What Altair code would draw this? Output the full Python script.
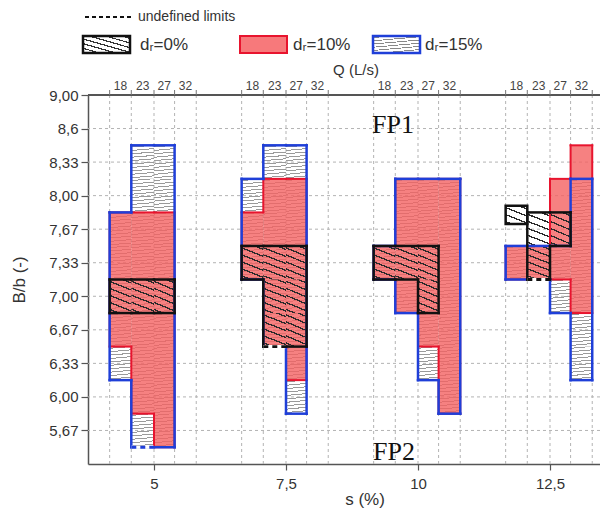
import math
import pandas as pd
import altair as alt

# ---------------- data ----------------
S_VALUES = [5, 7.5, 10, 12.5]
S_LABELS = ["5", "7,5", "10", "12,5"]
Q_VALUES = [18, 23, 27, 32]
BB_LEVELS = [5.67, 6.00, 6.33, 6.67, 7.00, 7.33, 7.67, 8.00, 8.33, 8.6, 9.00]
BB_LABELS = ["5,67", "6,00", "6,33", "6,67", "7,00", "7,33", "7,67", "8,00", "8,33", "8,6", "9,00"]

# (s, Q, lowest B/b, highest B/b)
DR15 = [
    (5, 18, 6.33, 7.67), (5, 23, 5.67, 8.33), (5, 27, 5.67, 8.33),
    (7.5, 18, 7.33, 8.00), (7.5, 23, 6.67, 8.33), (7.5, 27, 6.00, 8.33),
    (10, 18, 7.33, 7.33), (10, 23, 7.00, 8.00), (10, 27, 6.33, 8.00), (10, 32, 6.00, 8.00),
    (12.5, 18, 7.33, 7.33), (12.5, 23, 7.33, 7.33), (12.5, 27, 7.00, 7.33), (12.5, 32, 6.33, 8.00),
]
DR10 = [
    (5, 18, 6.67, 7.67), (5, 23, 6.00, 7.67), (5, 27, 5.67, 7.67),
    (7.5, 18, 7.33, 7.67), (7.5, 23, 6.67, 8.00), (7.5, 27, 6.33, 8.00),
    (10, 18, 7.33, 7.33), (10, 23, 7.00, 8.00), (10, 27, 6.67, 8.00), (10, 32, 6.00, 8.00),
    (12.5, 18, 7.33, 7.33), (12.5, 23, 7.33, 7.33), (12.5, 27, 7.33, 8.00), (12.5, 32, 7.00, 8.33),
]
DR0 = [
    (5, 18, 7.00, 7.00), (5, 23, 7.00, 7.00), (5, 27, 7.00, 7.00),
    (7.5, 18, 7.33, 7.33), (7.5, 23, 6.67, 7.33), (7.5, 27, 6.67, 7.33),
    (10, 18, 7.33, 7.33), (10, 23, 7.33, 7.33), (10, 27, 7.00, 7.33),
    (12.5, 23, 7.33, 7.67), (12.5, 27, 7.67, 7.67),
]
DR0_EXTRA = [(12.5, 18, 7.72, 7.90)]          # isolated box (B/b bounds)
UNDEFINED = [(5, 23, 5.67, "15"), (7.5, 23, 6.67, "0"), (12.5, 23, 7.33, "0")]  # undefined lower limits

# ---------------- layout ----------------
Q_EDGES = [-0.84, -0.43, 0.0, 0.39, 0.80]   # column edges relative to s
W, H = 512, 369
X0 = 3.75
PX_PER_S = 52.8
xscale = alt.Scale(domain=[X0, X0 + W / PX_PER_S], nice=False, zero=False)
yscale = alt.Scale(domain=[0, 11], nice=False, zero=False)
FONT = "Liberation Sans"

BLUE = "#1f3fd8"
RED = "#e8142e"
BLACK = "#111111"

XAXIS = alt.Axis(
    orient="bottom", values=S_VALUES,
    labelExpr="[" + ",".join("'%s'" % l for l in S_LABELS) + "][indexof(["
              + ",".join(str(v) for v in S_VALUES) + "], datum.value)]",
    title=None, grid=False, tickSize=6, tickColor="#555", tickWidth=1.2,
    domainColor="#555", domainWidth=1.5, labelFontSize=15, labelColor="#333",
    labelFont=FONT, labelPadding=6)
YAXIS = alt.Axis(
    orient="left", values=list(range(1, 12)),
    labelExpr="[''," + ",".join("'%s'" % l for l in BB_LABELS) + "][datum.value]",
    title=None, grid=False, tickSize=7, tickColor="#555", tickWidth=1.2,
    domainColor="#555", domainWidth=1.5, labelFontSize=15, labelColor="#333",
    labelFont=FONT, labelPadding=3)

def pos(bb):
    lv = [round(v, 2) for v in BB_LEVELS]
    bb = round(bb, 2)
    if bb in lv:
        return lv.index(bb) + 1
    for i in range(len(lv) - 1):
        if lv[i] <= bb <= lv[i + 1]:
            return i + 1 + (bb - lv[i]) / (lv[i + 1] - lv[i])
    return 0

def edges(s):
    return [s + o for o in Q_EDGES]

def ranges(rows):
    return {(s, q): (pos(lo) - 0.5, pos(hi) + 0.5) for s, q, lo, hi in rows}

def cells(rows):
    out = []
    for s, q, lo, hi in rows:
        bx = edges(s)
        i = Q_VALUES.index(q)
        for l in range(int(pos(lo)), int(pos(hi)) + 1):
            out.append({"x0": bx[i], "x1": bx[i + 1], "y0": l - 0.5, "y1": l + 0.5})
    return pd.DataFrame(out)

def columns(rows):
    out = []
    for (s, q), (a, b) in ranges(rows).items():
        bx = edges(s)
        i = Q_VALUES.index(q)
        out.append({"x0": bx[i], "x1": bx[i + 1], "y0": a, "y1": b})
    return pd.DataFrame(out)

def outline(rows):
    rng = ranges(rows)
    segs = []
    for s in S_VALUES:
        cols = [rng.get((s, q)) for q in Q_VALUES]
        bx = edges(s)
        for i, c in enumerate(cols):
            if c:
                segs.append((bx[i], bx[i + 1], c[1], c[1]))
                segs.append((bx[i], bx[i + 1], c[0], c[0]))
        for j in range(5):
            L = cols[j - 1] if j > 0 else None
            R = cols[j] if j < 4 else None
            xs = bx[j]
            if L and R and max(L[0], R[0]) < min(L[1], R[1]):
                if L[0] != R[0]:
                    segs.append((xs, xs, min(L[0], R[0]), max(L[0], R[0])))
                if L[1] != R[1]:
                    segs.append((xs, xs, min(L[1], R[1]), max(L[1], R[1])))
            else:
                for c in (L, R):
                    if c:
                        segs.append((xs, xs, c[0], c[1]))
    return pd.DataFrame(segs, columns=["x0", "x1", "y0", "y1"])

def hatch(angle_deg, spacing, lw, w, h, line, bg="rgba(255,255,255,0)"):
    a = math.radians(angle_deg)
    gx, gy = -math.sin(a) / h, math.cos(a) / w
    L = math.hypot(gx, gy)
    gx, gy = gx / L, gy / L
    proj = [0, gx, gy, gx + gy]
    tmin, tmax = min(proj), max(proj)
    n = (-math.sin(a), math.cos(a))
    sp = [0, w * n[0], h * n[1], w * n[0] + h * n[1]]
    E = max(sp) - min(sp)
    f = lw / E
    stops = [{"offset": 0, "color": bg}]
    t = 0.5 * spacing / E
    while t < 1:
        t0, t1 = max(0, t - f / 2), min(1, t + f / 2)
        stops += [{"offset": t0, "color": bg}, {"offset": t0, "color": line},
                  {"offset": t1, "color": line}, {"offset": t1, "color": bg}]
        t += spacing / E
    stops.append({"offset": 1, "color": bg})
    return {"gradient": "linear", "x1": tmin * gx, "y1": tmin * gy,
            "x2": tmax * gx, "y2": tmax * gy, "stops": stops}

CW, CH = 21.6, H / 11
BLUE_HATCH = hatch(-5, 3.4, 1.0, CW, CH, "#9a9a9a")
BLACK_HATCH = hatch(22, 6.5, 1.3, CW, CH, "#2a2a2a")

def X(field):
    return alt.X(field, type="quantitative", scale=xscale, axis=XAXIS)

def Y(field):
    return alt.Y(field, type="quantitative", scale=yscale, axis=YAXIS)

def rect_layer(df, **mark):
    return alt.Chart(df).mark_rect(**mark).encode(
        x=X("x0"), x2="x1", y=Y("y0"), y2="y1")

def seg_layer(df, color, width, cap="square", **kw):
    return alt.Chart(df).mark_rule(color=color, strokeWidth=width, strokeCap=cap, **kw).encode(
        x=X("x0"), x2="x1", y=Y("y0"), y2="y1")

# ---------------- layers ----------------
bounds = pd.DataFrame({"x0": [e for s in S_VALUES for e in edges(s)]})
centers = pd.DataFrame([{"x0": (edges(s)[i] + edges(s)[i + 1]) / 2, "lab": str(q)}
                        for s in S_VALUES for i, q in enumerate(Q_VALUES)])
levels = pd.DataFrame({"y0": list(range(1, 11))})

hgrid = alt.Chart(levels).mark_rule(strokeDash=[3, 3], color="#b3b3b3", strokeWidth=1).encode(
    y=Y("y0"))
vgrid = alt.Chart(bounds).mark_rule(strokeDash=[3, 3], color="#b3b3b3", strokeWidth=1).encode(
    x=X("x0"))

top_line = alt.Chart(pd.DataFrame({"y0": [11]})).mark_rule(color="#555", strokeWidth=1.8).encode(
    y=Y("y0"))
top_ticks = alt.Chart(bounds).mark_rule(color="#777", strokeWidth=1).encode(
    x=X("x0"), y=alt.value(-5), y2=alt.value(0))
top_labels = alt.Chart(centers).mark_text(baseline="bottom", fontSize=12, color="#444", font=FONT).encode(
    x=X("x0"), y=alt.value(-2), text="lab:N")

blue_cells = rect_layer(cells(DR15), fill=BLUE_HATCH)
red_cols = rect_layer(columns(DR10), fill="#f46262", opacity=0.8)
black_cells = rect_layer(cells(DR0), fill=BLACK_HATCH)

ex = []
for s, q, lo, hi in DR0_EXTRA:
    bx = edges(s)
    i = Q_VALUES.index(q)
    ex.append({"x0": bx[i], "x1": bx[i + 1], "y0": pos(lo), "y1": pos(hi)})
ex = pd.DataFrame(ex)
extra_h = (ex["y1"].iloc[0] - ex["y0"].iloc[0]) * CH
black_extra = rect_layer(ex, fill=hatch(22, 6.5, 1.3, CW, extra_h, "#2a2a2a"),
                         stroke=BLACK, strokeWidth=2.5)

red_out = seg_layer(outline(DR10), RED, 2)
blue_out = seg_layer(outline(DR15), BLUE, 2.5)
black_out = seg_layer(outline(DR0), BLACK, 2.5)

und = []
for s, q, bb, dr in UNDEFINED:
    bx = edges(s)
    i = Q_VALUES.index(q)
    und.append({"x0": bx[i], "x1": bx[i + 1], "y0": pos(bb) - 0.5, "y1": pos(bb) - 0.5, "dr": dr})
und = pd.DataFrame(und)
und_white = seg_layer(und, "white", 3.2, cap="butt")
und_dash = alt.Chart(und).mark_rule(strokeWidth=2.8, strokeDash=[5, 4]).encode(
    x=X("x0"), x2="x1", y=Y("y0"), y2="y1",
    color=alt.Color("dr:N", scale=alt.Scale(domain=["0", "15"], range=[BLACK, BLUE]), legend=None))

one = pd.DataFrame({"a": [0]})

def txt(t, x, y, size, **kw):
    return alt.Chart(one).mark_text(text=t, fontSize=size, **kw).encode(
        x=alt.value(x), y=alt.value(y))

annots = [
    txt("Q (L/s)", 268, -25, 15, font=FONT, color="#333"),
    txt("s (%)", 277, 405, 17, font=FONT, color="#333"),
    txt("B/b (-)", -68, 185, 17, font=FONT, color="#333", angle=270),
    txt("FP1", 305, 30, 26, font="Liberation Serif", color="#111"),
    txt("FP2", 306, 357, 26, font="Liberation Serif", color="#111"),
    txt("undefined limits", 50, -78, 14, font=FONT, color="#333", align="left"),
    txt("dᵣ=0%", 52, -50, 17, font=FONT, color="#333", align="left"),
    txt("dᵣ=10%", 205, -50, 17, font=FONT, color="#333", align="left"),
    txt("dᵣ=15%", 337, -50, 17, font=FONT, color="#333", align="left"),
]
leg_dash = alt.Chart(one).mark_rule(color=BLACK, strokeWidth=2.2, strokeDash=[4, 3]).encode(
    x=alt.value(-3), x2=alt.value(44), y=alt.value(-78))
BW, BH = 47, 17
leg_black = alt.Chart(one).mark_rect(fill=hatch(16, 4.5, 1.2, BW, BH, "#333", "white"),
                                     stroke=BLACK, strokeWidth=2.5).encode(
    x=alt.value(-5), x2=alt.value(42), y=alt.value(-59), y2=alt.value(-42))
leg_red = alt.Chart(one).mark_rect(fill="#f7797b", stroke=RED, strokeWidth=2).encode(
    x=alt.value(152), x2=alt.value(199), y=alt.value(-59), y2=alt.value(-42))
leg_blue = alt.Chart(one).mark_rect(fill=hatch(-5, 3.2, 0.9, BW, BH, "#888", "white"),
                                    stroke=BLUE, strokeWidth=2.5).encode(
    x=alt.value(285), x2=alt.value(332), y=alt.value(-59), y2=alt.value(-42))

chart = alt.layer(
    hgrid, vgrid, top_line, top_ticks, top_labels,
    blue_cells, red_cols, black_cells,
    red_out, blue_out, black_out, black_extra,
    und_white, und_dash,
    leg_dash, leg_black, leg_red, leg_blue, *annots,
).properties(
    width=W, height=H,
    padding={"left": 80, "top": 87, "right": 0, "bottom": 55},
    autosize=alt.AutoSizeParams(type="none"),
).configure_view(stroke=None)

chart.save("out.html", embed_options={"renderer": "svg", "actions": False})
